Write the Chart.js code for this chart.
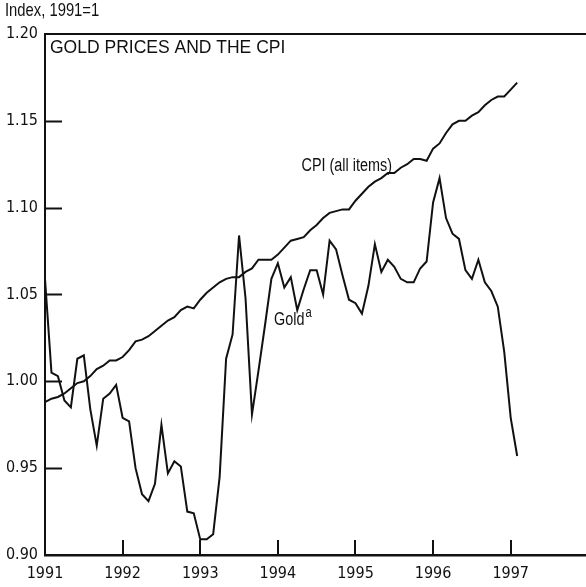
<!DOCTYPE html>
<html><head><meta charset="utf-8">
<script src="https://cdn.jsdelivr.net/npm/chart.js@4/dist/chart.umd.min.js"></script>
<style>html,body{margin:0;padding:0;background:#fff;}canvas{display:block;}</style>
</head><body>
<canvas id="c" width="586" height="587"></canvas>
<script>
// Monthly series, Jan 1991 - Feb 1997, index 1991 = 1
const startYear = 1991;
const goldValues = [
  1.059, 1.005, 1.003, 0.989, 0.985, 1.013, 1.015, 0.984, 0.963, 0.990, 0.993, 0.998,
  0.979, 0.977, 0.950, 0.935, 0.931, 0.941, 0.975, 0.947, 0.954, 0.951, 0.925, 0.924,
  0.909, 0.909, 0.912, 0.945, 1.013, 1.027, 1.084, 1.048, 0.981, 1.006, 1.032, 1.059,
  1.068, 1.054, 1.060, 1.041, 1.053, 1.064, 1.064, 1.050, 1.081, 1.076, 1.061, 1.047,
  1.045, 1.039, 1.055, 1.079, 1.063, 1.070, 1.066, 1.059, 1.057, 1.057, 1.065, 1.069,
  1.103, 1.117, 1.094, 1.085, 1.082, 1.064, 1.059, 1.070, 1.057, 1.052, 1.043, 1.017,
  0.979, 0.957
];
const cpiValues = [
  0.988, 0.990, 0.991, 0.993, 0.996, 0.999, 1.000, 1.003, 1.007, 1.009, 1.012, 1.012,
  1.014, 1.018, 1.023, 1.024, 1.026, 1.029, 1.032, 1.035, 1.037, 1.041, 1.043, 1.042,
  1.047, 1.051, 1.054, 1.057, 1.059, 1.060, 1.060, 1.063, 1.065, 1.070, 1.070, 1.070,
  1.073, 1.077, 1.081, 1.082, 1.083, 1.087, 1.090, 1.094, 1.097, 1.098, 1.099, 1.099,
  1.104, 1.108, 1.112, 1.115, 1.117, 1.120, 1.120, 1.123, 1.125, 1.128, 1.128, 1.127,
  1.134, 1.137, 1.143, 1.148, 1.150, 1.150, 1.153, 1.155, 1.159, 1.162, 1.164, 1.164,
  1.168, 1.172
];
const yearTicks = [1991, 1992, 1993, 1994, 1995, 1996, 1997];
const yTicks = [0.90, 0.95, 1.00, 1.05, 1.10, 1.15, 1.20];
const titleText = 'GOLD PRICES AND THE CPI';
const unitText = 'Index, 1991=1';
const cpiLabel = 'CPI (all items)';
const goldLabel = 'Gold';
const goldNote = 'a';

const COND = '"DejaVu Sans Condensed", "Liberation Sans Narrow", sans-serif';
const REG = '"Liberation Sans", Arial, sans-serif';

const toPoints = vals => vals.map((v, i) => ({ x: startYear + i / 12, y: v }));

// narrow text: regular sans compressed horizontally
function narrowText(ctx, txt, x, y, size, align) {
  ctx.save();
  ctx.font = size + 'px ' + REG;
  const w = ctx.measureText(txt).width * 0.8;
  let x0 = x;
  if (align === 'right') x0 = x - w;
  ctx.translate(x0, y);
  ctx.scale(0.8, 1);
  ctx.textAlign = 'left';
  ctx.fillText(txt, 0, 0);
  ctx.restore();
  return w;
}

const decor = {
  id: 'decor',
  afterDraw(chart) {
    const ctx = chart.ctx, a = chart.chartArea;
    const xs = chart.scales.x, ys = chart.scales.y;
    ctx.save();
    ctx.strokeStyle = '#111';
    ctx.lineWidth = 2;
    ctx.beginPath(); ctx.moveTo(a.left, a.top); ctx.lineTo(a.right, a.top); ctx.stroke();
    yTicks.forEach(v => {
      if (v <= 0.9 || v >= 1.2) return;
      const p = Math.round(ys.getPixelForValue(v)) + 0.5;
      ctx.beginPath(); ctx.moveTo(a.left, p); ctx.lineTo(a.left + 17, p); ctx.stroke();
    });
    yearTicks.forEach(v => {
      if (v <= startYear) return;
      const p = Math.round(xs.getPixelForValue(v));
      ctx.beginPath(); ctx.moveTo(p, a.bottom); ctx.lineTo(p, a.bottom - 15); ctx.stroke();
    });
    ctx.fillStyle = '#111';
    ctx.textBaseline = 'alphabetic';
    narrowText(ctx, unitText, 5, 16, 18.5, 'left');
    ctx.font = '17.5px ' + REG;
    ctx.textAlign = 'left';
    ctx.fillText(titleText, a.left + 5, a.top + 19);
    narrowText(ctx, cpiLabel, xs.getPixelForValue(1995.47), ys.getPixelForValue(1.121), 18, 'right');
    const gx = xs.getPixelForValue(1993.95), gy = ys.getPixelForValue(1.0325);
    const gw = narrowText(ctx, goldLabel, gx, gy, 18, 'left');
    narrowText(ctx, goldNote, gx + gw + 1, gy - 8, 14, 'left');
    ctx.restore();
  }
};

new Chart(document.getElementById('c'), {
  type: 'line',
  data: {
    datasets: [
      { label: 'CPI (all items)', data: toPoints(cpiValues), borderColor: '#111', borderWidth: 2, pointRadius: 0, tension: 0, fill: false },
      { label: 'Gold', data: toPoints(goldValues), borderColor: '#111', borderWidth: 2, pointRadius: 0, tension: 0, fill: false }
    ]
  },
  options: {
    responsive: false,
    animation: false,
    devicePixelRatio: 1,
    layout: { padding: { top: 34, right: 0, left: 0, bottom: 0 } },
    plugins: { legend: { display: false }, tooltip: { enabled: false }, title: { display: false } },
    scales: {
      x: {
        type: 'linear', min: 1991, max: 1997.97,
        afterFit(s) { s.height = 32; },
        afterBuildTicks(s) { s.ticks = yearTicks.map(v => ({ value: v })); },
        grid: { display: true, drawOnChartArea: false, drawTicks: false },
        border: { display: true, color: '#111', width: 2.5 },
        ticks: { color: '#111', font: { family: COND, size: 16 }, padding: 9, maxRotation: 0, autoSkip: false,
                 callback: v => String(v) }
      },
      y: {
        type: 'linear', min: 0.90, max: 1.20,
        afterFit(s) { s.width = 45; },
        afterBuildTicks(s) { s.ticks = yTicks.map(v => ({ value: v })); },
        grid: { display: true, drawOnChartArea: false, drawTicks: false },
        border: { display: true, color: '#111', width: 2 },
        ticks: { color: '#111', font: { family: COND, size: 16 }, padding: 7,
                 callback: v => Number(v).toFixed(2) }
      }
    }
  },
  plugins: [decor]
});
</script>
</body></html>
